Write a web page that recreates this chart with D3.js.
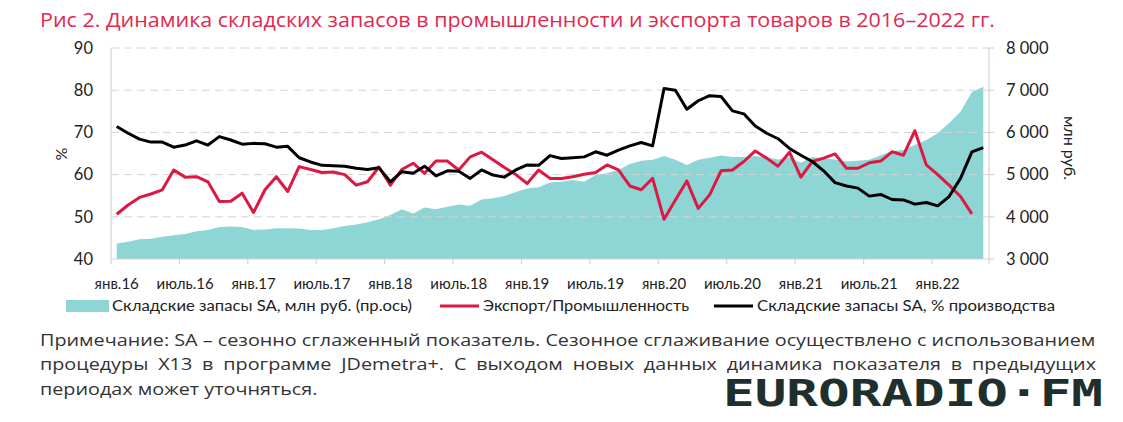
<!DOCTYPE html>
<html><head><meta charset="utf-8">
<script src="https://cdn.jsdelivr.net/npm/d3@7"></script>
<style>body{margin:0;background:#fff} svg{display:block}</style>
</head><body><svg id="c" width="1123" height="422"></svg>
<script>
// ---- data ----
const startMonth = new Date(2016, 0, 1);
const months = d3.timeMonth.range(startMonth, new Date(2022, 5, 1)); // янв.2016 – май.2022 (77)
const stockRub = [3370,3410,3470,3480,3530,3560,3590,3660,3690,3760,
  3770,3760,3690,3700,3730,3730,3720,3690,3690,3730,
  3780,3820,3870,3940,4040,4180,4080,4220,4180,4240,
  4290,4260,4410,4440,4490,4590,4670,4700,4810,4830,
  4870,4830,4990,5030,5110,5250,5330,5350,5440,5350,
  5230,5350,5400,5450,5420,5420,5440,5410,5360,5410,
  5280,5420,5390,5360,5310,5330,5350,5460,5560,5580,
  5700,5820,5980,6220,6490,6960,7080];
const exportRatio = [50.6,52.8,54.6,55.4,56.4,61.1,59.4,59.5,58.3,53.6,
  53.7,55.6,51.0,56.4,59.5,56.0,61.9,61.2,60.5,60.6,
  60.0,57.5,58.3,61.8,57.5,61.2,62.7,60.3,63.2,63.2,
  61.1,64.2,65.3,63.5,61.7,60.0,57.9,61.1,59.1,59.1,
  59.5,60.1,60.5,62.3,61.1,57.3,56.4,59.1,49.4,54.0,
  58.5,52.0,55.2,60.9,61.1,63.1,65.6,63.9,62.0,65.3,
  59.4,63.1,63.9,64.9,61.5,61.5,62.8,63.2,65.4,64.6,
  70.4,62.3,60.0,57.5,54.8,50.7];
const stockPct = [71.4,69.8,68.4,67.7,67.7,66.5,67.0,68.0,67.0,69.0,
  68.2,67.2,67.4,67.3,66.5,66.7,64.0,63.0,62.2,62.1,
  62.0,61.5,61.2,61.6,58.3,60.7,60.3,62.0,59.7,60.9,
  60.8,59.1,61.1,59.9,59.4,61.1,62.3,62.2,64.5,63.8,
  64.0,64.2,65.4,64.6,65.8,66.8,67.6,66.8,80.4,80.0,
  75.5,77.5,78.7,78.5,75.1,74.4,71.5,69.8,68.5,66.2,
  64.6,63.1,60.9,58.1,57.3,56.8,54.9,55.3,54.1,54.0,
  53.0,53.4,52.6,54.8,59.1,65.4,66.4];
const xTickLabels = ["янв.16","июль.16","янв.17","июль.17","янв.18","июль.18","янв.19","июль.19","янв.20","июль.20","янв.21","июль.21","янв.22"];
const leftTicks = [40,50,60,70,80,90];
const rightTicks = [3000,4000,5000,6000,7000,8000];
const rightTickLabels = ["3 000","4 000","5 000","6 000","7 000","8 000"];
const legendLabels = ["Складские запасы SA, млн руб. (пр.ось)","Экспорт/Промышленность","Складские запасы SA, % производства"];
const titleText = "Рис 2. Динамика складских запасов в промышленности и экспорта товаров в 2016–2022 гг.";
const noteLines = ["Примечание: SA – сезонно сглаженный показатель. Сезонное сглаживание осуществлено с использованием",
  "процедуры X13 в программе JDemetra+. С выходом новых данных динамика показателя в предыдущих",
  "периодах может уточняться."];

// ---- layout ----
const L = 111, R = 989, T = 48, B = 259;
const font = "Lato, 'Open Sans', sans-serif";
const svg = d3.select("#c");
const idx = d3.range(months.length);
const x = d3.scaleBand().domain(idx).range([L, R]).padding(0);
const cx = i => x(i) + x.bandwidth() / 2;
const yL = d3.scaleLinear().domain([40, 90]).range([B, T]);
const yR = d3.scaleLinear().domain([3000, 8000]).range([B, T]);
const teal = "#8ed6d6", red = "#dc1843", gridC = "#d4d4d4";

// title
svg.append("text").attr("x", 40).attr("y", 27).attr("fill", "#e2294f")
  .attr("font-family", "'Open Sans', sans-serif").attr("font-size", 19.5)
  .attr("textLength", 955).attr("lengthAdjust", "spacingAndGlyphs").text(titleText);

// area
svg.append("path").datum(stockRub)
  .attr("d", d3.area().x((d, i) => cx(i)).y0(B).y1(d => yR(d)))
  .attr("fill", teal);

// gridlines
svg.append("g").selectAll("line").data(leftTicks.filter(v => v > 40)).join("line")
  .attr("x1", L).attr("x2", R).attr("y1", d => yL(d)).attr("y2", d => yL(d))
  .attr("stroke", gridC).attr("stroke-width", 1).attr("stroke-dasharray", "8,5");

// axes lines
const ax = svg.append("g").attr("stroke", gridC).attr("stroke-width", 1.2);
ax.append("line").attr("x1", L).attr("x2", L).attr("y1", T).attr("y2", B);
ax.append("line").attr("x1", R).attr("x2", R).attr("y1", T).attr("y2", B);
ax.append("line").attr("x1", L).attr("x2", R).attr("y1", B).attr("y2", B);
const tickIdx = d3.range(0, months.length, 6);
ax.selectAll(".xt").data(tickIdx.concat([months.length])).join("line")
  .attr("x1", d => d < months.length ? x(d) : R).attr("x2", d => d < months.length ? x(d) : R)
  .attr("y1", B).attr("y2", B + 5);
ax.selectAll(".rt").data(rightTicks).join("line")
  .attr("x1", R).attr("x2", R + 5).attr("y1", d => yR(d)).attr("y2", d => yR(d));

// lines
svg.append("path").datum(exportRatio)
  .attr("d", d3.line().x((d, i) => cx(i)).y(d => yL(d)))
  .attr("fill", "none").attr("stroke", red).attr("stroke-width", 3).attr("stroke-linejoin", "round");
svg.append("path").datum(stockPct)
  .attr("d", d3.line().x((d, i) => cx(i)).y(d => yL(d)))
  .attr("fill", "none").attr("stroke", "#000").attr("stroke-width", 3).attr("stroke-linejoin", "round");

// tick labels
const tl = svg.append("g").attr("font-family", font).attr("fill", "#222");
tl.selectAll(".yl").data(leftTicks).join("text")
  .attr("x", 93).attr("y", d => yL(d)).attr("dy", "0.35em").attr("text-anchor", "end")
  .attr("font-size", 16.5).text(d => d);
tl.selectAll(".yr").data(rightTicks).join("text")
  .attr("x", 1006).attr("y", d => yR(d)).attr("dy", "0.35em").attr("text-anchor", "start")
  .attr("font-size", 16.5).text((d, i) => rightTickLabels[i]);
tl.selectAll(".xl").data(tickIdx).join("text")
  .attr("x", d => cx(d)).attr("y", 284).attr("dy", "0.35em").attr("text-anchor", "middle")
  .attr("font-size", 15).text((d, i) => xTickLabels[i]);
tl.append("text").attr("transform", "translate(61,154) rotate(-90)").attr("text-anchor", "middle")
  .attr("dy", "0.35em").attr("font-size", 16).text("%");
tl.append("text").attr("transform", "translate(1070,148) rotate(90)").attr("text-anchor", "middle")
  .attr("dy", "0.35em").attr("font-size", 16).text("млн руб.");

// legend
const lg = svg.append("g").attr("font-family", font).attr("font-size", 15.5).attr("fill", "#222");
lg.append("rect").attr("x", 66).attr("y", 300).attr("width", 43).attr("height", 12).attr("fill", teal);
lg.append("text").attr("x", 112).attr("y", 306).attr("dy", "0.35em").attr("textLength", 300)
  .attr("lengthAdjust", "spacingAndGlyphs").text(legendLabels[0]);
lg.append("line").attr("x1", 440).attr("x2", 479).attr("y1", 306).attr("y2", 306).attr("stroke", red).attr("stroke-width", 3);
lg.append("text").attr("x", 483).attr("y", 306).attr("dy", "0.35em").attr("textLength", 206)
  .attr("lengthAdjust", "spacingAndGlyphs").text(legendLabels[1]);
lg.append("line").attr("x1", 714).attr("x2", 753).attr("y1", 306).attr("y2", 306).attr("stroke", "#000").attr("stroke-width", 3);
lg.append("text").attr("x", 757).attr("y", 306).attr("dy", "0.35em").attr("textLength", 298)
  .attr("lengthAdjust", "spacingAndGlyphs").text(legendLabels[2]);

// note: horizontally scaled so line 1 fits naturally, line 2 justified by word spacing
const noteW = 1056;
const nt = svg.append("g").attr("font-family", "'Open Sans', sans-serif").attr("font-size", 17).attr("fill", "#333");
const els = noteLines.map((t, i) => nt.append("text").attr("x", 0).attr("y", 340 + i * 24.5).attr("dy", "0.35em").text(t));
const w1 = els[0].node().getComputedTextLength();
const s = noteW / w1;
nt.attr("transform", `translate(40,0) scale(${s},1)`);
{
  const t = noteLines[1];
  const w = els[1].node().getComputedTextLength();
  const spaces = (t.match(/ /g) || []).length;
  const extra = (noteW / s - w) / spaces;
  if (extra > 0) els[1].attr("word-spacing", extra);
}

// watermark logo
svg.append("text").attr("x", 723).attr("y", 406).attr("fill", "#1f302c")
  .attr("font-family", "'DejaVu Sans Mono', monospace").attr("font-weight", "bold").attr("font-size", 38)
  .attr("textLength", 380).attr("lengthAdjust", "spacingAndGlyphs").text("EURORADIO·FM");
</script></body></html>
